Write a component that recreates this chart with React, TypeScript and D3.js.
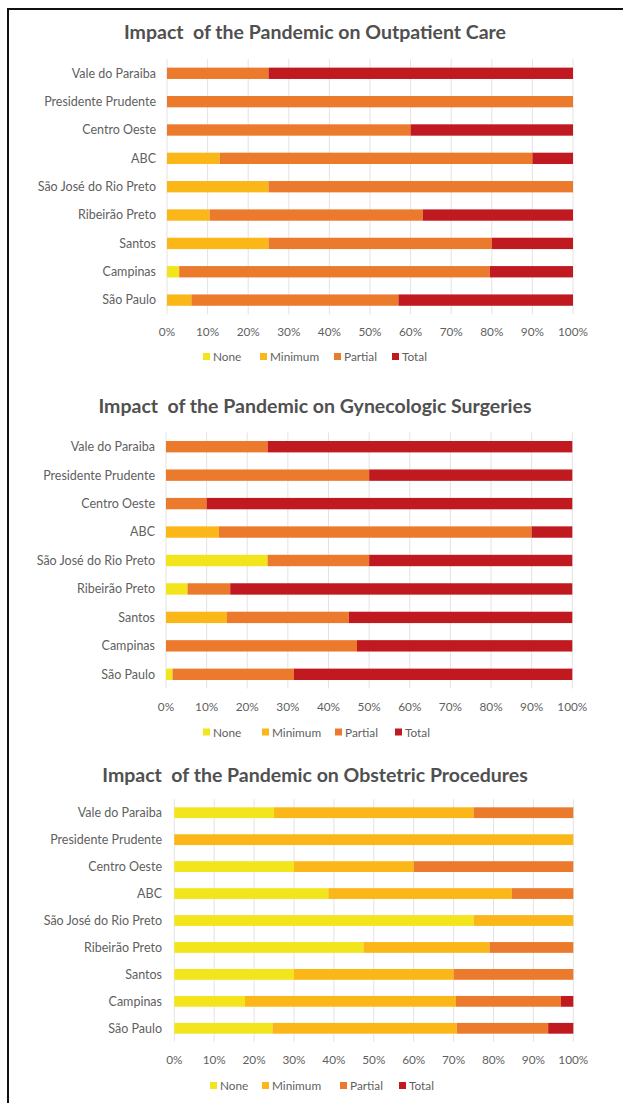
import React from "react";
import * as d3 from "d3";

const categories = [
  "Vale do Paraiba",
  "Presidente Prudente",
  "Centro Oeste",
  "ABC",
  "São José do Rio Preto",
  "Ribeirão Preto",
  "Santos",
  "Campinas",
  "São Paulo",
];
const seriesNames = ["None", "Minimum", "Partial", "Total"];
const seriesColors = ["#f2e51c", "#fbb618", "#ec7a2c", "#c0191f"];
const tickValues = [0, 0.1, 0.2, 0.3, 0.4, 0.5, 0.6, 0.7, 0.8, 0.9, 1];

const titles = [
  "Impact  of the Pandemic on Outpatient Care",
  "Impact  of the Pandemic on Gynecologic Surgeries",
  "Impact  of the Pandemic on Obstetric Procedures",
];

// Outpatient care (%)
const outNone = [0, 0, 0, 0, 0, 0, 0, 3, 0];
const outMinimum = [0, 0, 0, 13, 25, 10.5, 25, 0, 6];
const outPartial = [25, 100, 60, 77, 75, 52.5, 55, 76.5, 51];
const outTotal = [75, 0, 40, 10, 0, 37, 20, 20.5, 43];

// Gynecologic surgeries (%)
const gynNone = [0, 0, 0, 0, 25, 5.3, 0, 0, 1.6];
const gynMinimum = [0, 0, 0, 13, 0, 0, 15, 0, 0];
const gynPartial = [25, 50, 10, 77, 25, 10.5, 30, 47, 29.9];
const gynTotal = [75, 50, 90, 10, 50, 84.2, 55, 53, 68.5];

// Obstetric procedures (%)
const obsNone = [25, 0, 30, 38.6, 75, 47.4, 30, 17.7, 24.6];
const obsMinimum = [50, 100, 30, 46, 25, 31.6, 40, 52.9, 46.2];
const obsPartial = [25, 0, 40, 15.4, 0, 21, 30, 26.3, 22.9];
const obsTotal = [0, 0, 0, 0, 0, 0, 0, 3.1, 6.3];

const chartSeries = [
  [outNone, outMinimum, outPartial, outTotal],
  [gynNone, gynMinimum, gynPartial, gynTotal],
  [obsNone, obsMinimum, obsPartial, obsTotal],
];

const layouts = [
  { titleY: 38.5, x0: 167, x1: 573, first: 73.3, step: 28.35, labelRight: 156, tickY: 336, legendY: 361, legendX: [203, 260, 334, 392] },
  { titleY: 413, x0: 166, x1: 572.3, first: 446.7, step: 28.45, labelRight: 155, tickY: 710.5, legendY: 736.5, legendX: [203, 262, 335, 395] },
  { titleY: 781.5, x0: 174.3, x1: 573.3, first: 812.7, step: 26.95, labelRight: 162, tickY: 1064, legendY: 1090, legendX: [210, 262, 340, 399] },
];

const FONT = "Lato, 'Open Sans', sans-serif";
const TEXT = "#5f5f5f";

function Chart({ idx }: { idx: number }) {
  const L = layouts[idx];
  const series = chartSeries[idx];
  const rows = categories.map((c, i) => {
    const r: any = { cat: c };
    seriesNames.forEach((s, k) => (r[s] = series[k][i] / 100));
    return r;
  });
  const stacked = d3.stack<any>().keys(seriesNames)(rows);
  const x = d3.scaleLinear().domain([0, 1]).range([L.x0, L.x1]);
  const top = L.first - L.step / 2;
  const bottom = top + categories.length * L.step;
  const p = 0.6;
  const y = d3
    .scaleBand<string>()
    .domain(categories)
    .range([top, bottom])
    .paddingInner(p)
    .paddingOuter(p / 2);
  const fmt = d3.format(".0%");
  return (
    <g>
      <text
        x={315}
        y={L.titleY}
        textAnchor="middle"
        fontFamily={FONT}
        fontWeight={700}
        fontSize={19.5}
        fill="#505050"
        style={{ whiteSpace: "pre" }}
      >
        {titles[idx]}
      </text>
      {tickValues.map((t) => (
        <line
          key={t}
          x1={x(t)}
          x2={x(t)}
          y1={top}
          y2={bottom}
          stroke="#e3e3e3"
          strokeWidth={1}
        />
      ))}
      {stacked.map((s, k) => (
        <g key={s.key} fill={seriesColors[k]}>
          {s.map((d, i) =>
            d[1] - d[0] > 0 ? (
              <rect
                key={i}
                x={x(d[0])}
                y={y(d.data.cat)}
                width={x(d[1]) - x(d[0])}
                height={y.bandwidth()}
              />
            ) : null
          )}
        </g>
      ))}
      {categories.map((c) => (
        <text
          key={c}
          x={L.labelRight}
          y={(y(c) as number) + y.bandwidth() / 2}
          dy="0.35em"
          textAnchor="end"
          fontFamily={FONT}
          fontSize={12.5}
          fill={TEXT}
        >
          {c}
        </text>
      ))}
      {tickValues.map((t) => (
        <text
          key={t}
          x={x(t)}
          y={L.tickY}
          textAnchor="middle"
          fontFamily={FONT}
          fontSize={11.8}
          fill={TEXT}
        >
          {fmt(t)}
        </text>
      ))}
      {seriesNames.map((s, k) => (
        <g key={s}>
          <rect
            x={L.legendX[k]}
            y={L.legendY - 8}
            width={7}
            height={7}
            fill={seriesColors[k]}
          />
          <text
            x={L.legendX[k] + 10}
            y={L.legendY}
            fontFamily={FONT}
            fontSize={11.8}
            fill={TEXT}
          >
            {s}
          </text>
        </g>
      ))}
    </g>
  );
}

export default function App() {
  return (
    <div style={{ position: "absolute", left: 0, top: 0 }}>
      <svg width={623} height={1103} style={{ display: "block", background: "#fff" }}>
        <rect x={0} y={0} width={623} height={1103} fill="#fff" />
        <path d="M8,1103 V9 H623" fill="none" stroke="#111" strokeWidth={2} />
        {layouts.map((_, i) => (
          <Chart key={i} idx={i} />
        ))}
      </svg>
    </div>
  );
}
